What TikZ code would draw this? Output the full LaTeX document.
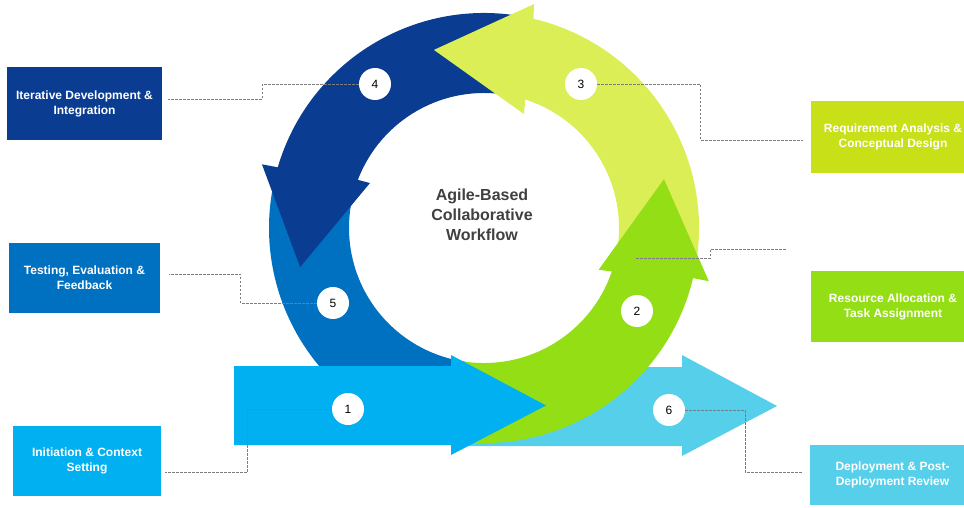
\documentclass[tikz,border=0pt]{standalone}
\usepackage{fontspec}
\setmainfont{Liberation Sans}
\definecolor{navy}{RGB}{10,61,145}
\definecolor{midblue}{RGB}{0,112,192}
\definecolor{skyblue}{RGB}{0,176,240}
\definecolor{paleblue}{RGB}{85,207,234}
\definecolor{leafgreen}{RGB}{148,222,22}
\definecolor{limegreen}{RGB}{220,238,85}
\definecolor{limebox}{RGB}{200,224,23}
\definecolor{linkgray}{RGB}{125,125,125}
\definecolor{titlegray}{RGB}{64,64,64}
\begin{document}
\begin{tikzpicture}[x=1pt, y=1pt,
    box/.style={rectangle, inner sep=0pt, text=white, align=center, font=\bfseries\fontsize{12}{15}\selectfont},
    num/.style={circle, fill=white, minimum size=32pt, inner sep=0pt, font=\fontsize{12}{14}\selectfont},
    link/.style={draw=linkgray, line width=0.8pt, dash pattern=on 2.5pt off 1.5pt}]
      \useasboundingbox (0,0) rectangle (964,507);
      \fill[paleblue] (460,140) -- (682,140) -- (682,152) -- (777,101) -- (682,51) -- (682,61) -- (460,61) -- cycle;
      \begin{scope}[shift={(484,279)}]
        \fill[midblue] (168:215) arc[start angle=168, end angle=262, radius=215] -- (262:135) arc[start angle=262, end angle=168, radius=135] -- cycle;
        \fill[navy] (80:215) arc[start angle=80, end angle=163.6, radius=215] -- (164:231) -- (192:188) -- (158.5:122.6) -- (159.1:135) arc[start angle=159.1, end angle=80, radius=135] -- cycle;
        \fill[limegreen] (-8:215) arc[start angle=-8, end angle=76.7, radius=215] -- (77.4:229.5) -- (105.7:185) -- (70.7:120.8) -- (72.2:135) arc[start angle=72.2, end angle=-8, radius=135] -- cycle;
        \fill[leafgreen] (-102:215) arc[start angle=-102, end angle=-13.5, radius=215] -- (-13.3:231) -- (15.2:186.5) -- (-20:122) -- (-18.8:135) arc[start angle=-18.8, end angle=-102, radius=135] -- cycle;
      \end{scope}
      \fill[skyblue] (234,141) -- (451,141) -- (451,152) -- (546,101.5) -- (451,52) -- (451,62) -- (234,62) -- cycle;
      \node (b4) at (84.5,403.5) [box, fill=navy, minimum width=155pt, minimum height=73pt] {Iterative Development \&\\Integration};
      \node (b5) at (84.5,229) [box, fill=midblue, minimum width=151pt, minimum height=70pt] {Testing, Evaluation \&\\Feedback};
      \node (b1) at (87,46) [box, fill=skyblue, minimum width=148pt, minimum height=70pt] {Initiation \& Context\\Setting};
      \node (b3) at (893,370) [box, fill=limebox, minimum width=164pt, minimum height=72pt] {Requirement Analysis \&\\Conceptual Design};
      \node (b2) at (893,200.5) [box, fill=leafgreen, minimum width=164pt, minimum height=71pt] {Resource Allocation \&\\Task Assignment};
      \node (b6) at (892.5,32) [box, fill=paleblue, minimum width=165pt, minimum height=60pt] {Deployment \& Post-\\Deployment Review};
      \node (title) at (482,292) [align=center, text=titlegray, font=\bfseries\fontsize{16}{20}\selectfont] {Agile-Based\\Collaborative\\Workflow};
      \node (1) at (348,98) [num] {1};
      \node (2) at (637,196) [num] {2};
      \node (3) at (581,423) [num] {3};
      \node (4) at (375,423) [num] {4};
      \node (5) at (333,204) [num] {5};
      \node (6) at (669,97) [num] {6};
      \coordinate (s2) at (636,249);
      \coordinate (e2) at (787,258);
      \foreach \n/\s/\len/\e/\dx/\dy in {4/west/-96/east/6/4.5, 5/west/-76/east/9/4, 1/west/-84/east/4/-11, 3/east/103/west/-8/-3, 6/east/60/west/-7/3}
        \draw[link] (\n.\s) -- ++(\len,0) |- ([xshift=\dx pt, yshift=\dy pt]b\n.\e);
      \draw[link] (s2) -- ++(74,0) |- (e2);
    \end{tikzpicture}
\end{document}
